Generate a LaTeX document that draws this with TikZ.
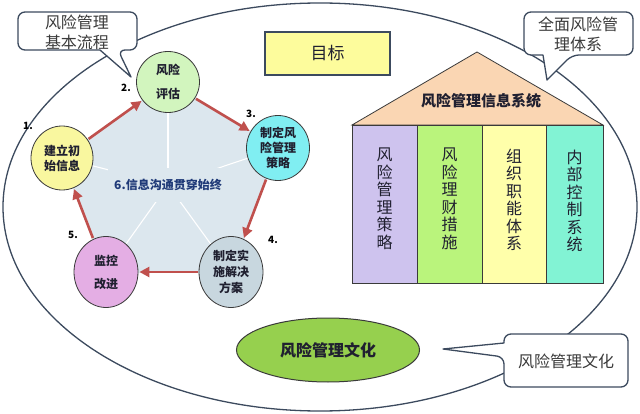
\documentclass[tikz,border=0pt]{standalone}
\usepackage{fontspec}
\setmainfont{Noto Sans CJK SC}
\usetikzlibrary{arrows.meta,shapes.geometric,calc}
\definecolor{outl}{HTML}{3C4A5E}
\definecolor{bgblue}{HTML}{DCE7EE}
\definecolor{arr}{HTML}{C0504D}
\definecolor{nA}{HTML}{F9F79F}
\definecolor{nB}{HTML}{D2F5BE}
\definecolor{nC}{HTML}{80EEF2}
\definecolor{nD}{HTML}{C8D7DF}
\definecolor{nE}{HTML}{E4AEE4}
\definecolor{roof}{HTML}{FAD6B3}
\definecolor{cA}{HTML}{CEC3EE}
\definecolor{cB}{HTML}{BAF47C}
\definecolor{cC}{HTML}{FFFFAA}
\definecolor{cD}{HTML}{82F3D4}
\definecolor{goal}{HTML}{FDFC9C}
\definecolor{cult}{HTML}{96D04E}
\definecolor{txt}{HTML}{202030}
\definecolor{ctxt}{HTML}{3A3A3A}
\definecolor{navy}{HTML}{1F3A78}
\tikzset{
  cyc/.style={ellipse, draw=ctxt, line width=0.8pt, inner sep=0pt, align=center,
    font=\bfseries\fontsize{12}{15}\selectfont, text=txt},
  flow/.style={draw=arr, line width=2.6pt, -{Triangle[length=10pt,width=10pt]}, shorten >=1pt, shorten <=1pt},
  numlab/.style={font=\bfseries\fontsize{10}{12}\selectfont, text=black},
  bubble/.style={draw=outl, fill=white, line width=1.3pt, rounded corners=7pt, line join=round},
  bubtext/.style={font=\fontsize{16}{20}\selectfont, text=ctxt, align=center},
  colbox/.style={draw=ctxt, line width=0.8pt},
  coltext/.style={font=\fontsize{16}{17.5}\selectfont, text=txt, align=center},
  spoke/.style={draw=white, line width=1.1pt}
}
\begin{document}
\begin{tikzpicture}[x=1pt,y=-1pt]
\useasboundingbox (0,0) rectangle (640,414);
\fill[white] (0,0) rectangle (640,414);
% outer ellipse
\draw[outl, line width=1.3pt] (320,207) ellipse [x radius=317pt, y radius=204pt];

% cycle coordinates
\coordinate (c0) at (168,185);
\coordinate (p1) at (62,158);
\coordinate (p2) at (168,82);
\coordinate (p3) at (278,148);
\coordinate (p4) at (231,272);
\coordinate (p5) at (106,272);
\fill[bgblue] ($(c0)!1.01!(p1)$) -- ($(c0)!1.01!(p2)$) -- ($(c0)!1.01!(p3)$) -- ($(c0)!1.01!(p4)$) -- ($(c0)!1.01!(p5)$) -- cycle;
\foreach \p in {p1,p2,p3,p4,p5} \draw[spoke] (c0) -- (\p);
\node[fill=bgblue, minimum width=120pt, minimum height=34pt, inner sep=0pt, text=navy,
  font=\bfseries\fontsize{12}{14}\selectfont] (center) at (c0) {6.信息沟通贯穿始终};

\node[cyc, fill=nA, minimum width=62pt, minimum height=64pt] (n1) at (p1) {建立初\\始信息};
\node[cyc, fill=nB, minimum width=63pt, minimum height=61pt, font=\bfseries\fontsize{12}{24}\selectfont] (n2) at (p2) {风险\\评估};
\node[cyc, fill=nC, minimum width=63pt, minimum height=65pt] (n3) at (p3) {制定风\\险管理\\策略};
\node[cyc, fill=nD, minimum width=64pt, minimum height=71pt, font=\bfseries\fontsize{12}{16}\selectfont] (n4) at (p4) {制定实\\施解决\\方案};
\node[cyc, fill=nE, minimum width=64pt, minimum height=71pt, font=\bfseries\fontsize{12}{23}\selectfont] (n5) at (p5) {监控\\改进};

\draw[flow] (n1) -- (n2);
\draw[flow] (n2) -- (n3);
\draw[flow] (n3) -- (n4);
\draw[flow] (n4) -- (n5);
\draw[flow] (n5) -- (n1);

\node[numlab] (l1) at (28,126) {1.};
\node[numlab] (l2) at (126,88) {2.};
\node[numlab] (l3) at (251,114) {3.};
\node[numlab] (l4) at (273,240) {4.};
\node[numlab] (l5) at (73,235) {5.};

% goal box
\node[draw=outl, fill=goal, line width=1.2pt, minimum width=125pt, minimum height=43pt,
  font=\fontsize{17}{20}\selectfont, text=txt] (goalbox) at (327.5,53.5) {目标};

% house
\draw[colbox, fill=roof] (352,125) -- (477,52) -- (603,125) -- cycle;
\node[font=\bfseries\fontsize{15}{18}\selectfont, text=txt] (rooftext) at (481,101) {风险管理信息系统};
\draw[colbox, fill=cA] (352,125) rectangle (417,283);
\draw[colbox, fill=cB] (417,125) rectangle (482,283);
\draw[colbox, fill=cC] (482,125) rectangle (546,283);
\draw[colbox, fill=cD] (546,125) rectangle (603,283);
\node[coltext] (t1) at (384.5,199) {风\\险\\管\\理\\策\\略};
\node[coltext] (t2) at (449.5,199) {风\\险\\理\\财\\措\\施};
\node[coltext] (t3) at (514,200) {组\\织\\职\\能\\体\\系};
\node[coltext] (t4) at (574.5,201) {内\\部\\控\\制\\系\\统};

% culture ellipse
\node[ellipse, draw=ctxt, line width=1pt, fill=cult, minimum width=183pt, minimum height=64pt,
  font=\bfseries\fontsize{16}{18}\selectfont, text=txt] (culture) at (328,350) {风险管理文化};

% callouts
\draw[bubble] (100,50) -- (18,50) -- (18,12) -- (137,12) -- (137,50) -- (118,50) [sharp corners] -- (131,77) -- cycle;
\node[bubtext] (b1) at (77,32) {风险管理\\基本流程};

\draw[bubble] (543,55) -- (524,55) -- (524,12) -- (633,12) -- (633,55) -- (572,55) [sharp corners] -- (547,80) -- cycle;
\node[bubtext] (b2) at (578,34) {全面风险管\\理体系};

\draw[bubble] (504,343) -- (504,334) -- (628,334) -- (628,387) -- (504,387) -- (504,357) [sharp corners] -- (443,349) -- cycle;
\node[bubtext, font=\fontsize{16}{20}\selectfont] (b3) at (566,361) {风险管理文化};
\end{tikzpicture}
\end{document}
